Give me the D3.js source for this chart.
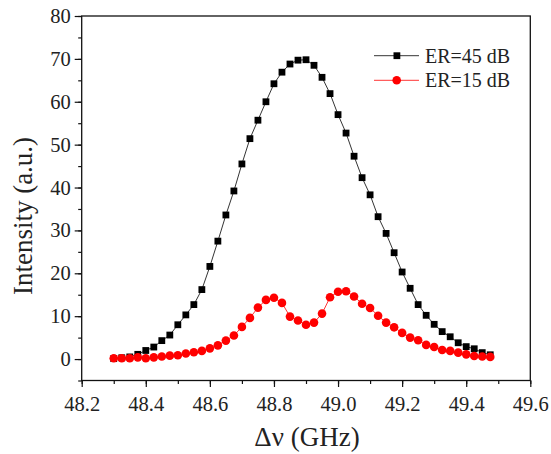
<!DOCTYPE html>
<html>
<head>
<meta charset="utf-8">
<script src="https://cdn.jsdelivr.net/npm/d3@7.9.0/dist/d3.min.js"></script>
<style>
  body { margin: 0; background: #fff; }
  svg { display: block; }
  svg text { font-family: "Liberation Serif", "Times New Roman", serif !important; fill: #222; }
</style>
</head>
<body>
<svg id="chart" width="551" height="454"></svg>
<script>
const freqs = [48.300, 48.325, 48.350, 48.375, 48.400, 48.425, 48.450, 48.475, 48.500, 48.525,
  48.550, 48.575, 48.600, 48.625, 48.650, 48.675, 48.700, 48.725, 48.750, 48.775,
  48.800, 48.825, 48.850, 48.875, 48.900, 48.925, 48.950, 48.975, 49.000, 49.025,
  49.050, 49.075, 49.100, 49.125, 49.150, 49.175, 49.200, 49.225, 49.250, 49.275,
  49.300, 49.325, 49.350, 49.375, 49.400, 49.425, 49.450, 49.475];

const er45 = [0.1, 0.3, 0.5, 1.1, 2.0, 2.8, 4.3, 5.6, 8.0, 10.3,
  12.7, 16.2, 21.6, 27.5, 33.6, 39.2, 45.5, 51.4, 55.7, 60.0,
  64.2, 66.9, 68.8, 69.7, 69.8, 68.5, 65.7, 61.9, 57.0, 52.7,
  47.3, 42.3, 38.3, 33.2, 29.3, 24.8, 20.3, 16.5, 12.7, 10.2,
  8.1, 6.4, 5.2, 3.8, 2.9, 2.4, 1.5, 1.0];

const er15 = [0.2, 0.2, 0.2, 0.4, 0.2, 0.4, 0.6, 0.8, 0.9, 1.3,
  1.6, 1.9, 2.5, 3.2, 4.3, 5.5, 7.5, 9.6, 12.0, 13.8,
  14.3, 13.1, 9.9, 9.0, 8.0, 8.5, 10.6, 14.4, 15.7, 15.8,
  14.6, 12.9, 11.9, 10.1, 8.5, 7.4, 6.1, 5.0, 4.4, 3.3,
  2.8, 2.1, 1.9, 1.5, 1.1, 0.7, 0.6, 0.5];

const xTicks = [48.2, 48.4, 48.6, 48.8, 49.0, 49.2, 49.4, 49.6];
const yTicks = [0, 10, 20, 30, 40, 50, 60, 70, 80];
const seriesNames = ['ER=45 dB', 'ER=15 dB'];

const mLeft = 81.7, mRight = 530.3, mTop = 16, mBottom = 380.5;

const x = d3.scaleLinear().domain([48.2, 49.6]).range([mLeft, mRight]);
const y = d3.scaleLinear().domain([-5, 80]).range([mBottom, mTop]);

const svg = d3.select('#chart');

// x axis (bottom) with minor ticks
svg.append('g')
  .attr('transform', `translate(0,${mBottom})`)
  .call(d3.axisBottom(x).tickValues(d3.range(48.2, 49.65, 0.1)).tickSize(3.5).tickFormat(''))
  .call(g => g.select('.domain').remove())
  .call(g => g.selectAll('line').attr('stroke', '#111').attr('stroke-width', 1.2));

svg.append('g')
  .attr('transform', `translate(0,${mBottom})`)
  .call(d3.axisBottom(x).tickValues(xTicks).tickSize(6.5).tickPadding(9).tickFormat(d3.format('.1f')))
  .call(g => g.select('.domain').remove())
  .call(g => g.selectAll('line').attr('stroke', '#111').attr('stroke-width', 1.2))
  .call(g => g.selectAll('text').attr('font-size', 20.5));

// y axis with minor ticks
svg.append('g')
  .attr('transform', `translate(${mLeft},0)`)
  .call(d3.axisLeft(y).tickValues(d3.range(-5, 81, 5)).tickSize(3.5).tickFormat(''))
  .call(g => g.select('.domain').remove())
  .call(g => g.selectAll('line').attr('stroke', '#111').attr('stroke-width', 1.2));

svg.append('g')
  .attr('transform', `translate(${mLeft},0)`)
  .call(d3.axisLeft(y).tickValues(yTicks).tickSize(7).tickPadding(4))
  .call(g => g.select('.domain').remove())
  .call(g => g.selectAll('line').attr('stroke', '#111').attr('stroke-width', 1.2))
  .call(g => g.selectAll('text').attr('font-size', 20.5));

// frame
svg.append('rect')
  .attr('x', mLeft).attr('y', mTop)
  .attr('width', mRight - mLeft).attr('height', mBottom - mTop)
  .attr('fill', 'none').attr('stroke', '#111').attr('stroke-width', 1.3);

const line = d3.line().x((d, i) => x(freqs[i])).y(d => y(d));

svg.append('path').datum(er45)
  .attr('d', line).attr('fill', 'none').attr('stroke', '#000').attr('stroke-width', 0.8);

svg.append('g').selectAll('rect').data(er45).join('rect')
  .attr('x', (d, i) => x(freqs[i]) - 3.4)
  .attr('y', d => y(d) - 3.4)
  .attr('width', 6.8).attr('height', 6.8)
  .attr('fill', '#000');

svg.append('path').datum(er15)
  .attr('d', line).attr('fill', 'none').attr('stroke', '#f00').attr('stroke-width', 0.8);

svg.append('g').selectAll('circle').data(er15).join('circle')
  .attr('cx', (d, i) => x(freqs[i]))
  .attr('cy', d => y(d))
  .attr('r', 4.3)
  .attr('fill', '#f00');

// legend
const legend = svg.append('g');
seriesNames.forEach((name, i) => {
  const ly = 55.7 + i * 24.6;
  const color = i === 0 ? '#000' : '#f00';
  legend.append('line')
    .attr('x1', 374).attr('x2', 419).attr('y1', ly).attr('y2', ly)
    .attr('stroke', color).attr('stroke-width', 0.8);
  if (i === 0) {
    legend.append('rect').attr('x', 393.5).attr('y', ly - 3.4).attr('width', 6.8).attr('height', 6.8).attr('fill', color);
  } else {
    legend.append('circle').attr('cx', 396.7).attr('cy', ly).attr('r', 4.3).attr('fill', color);
  }
  legend.append('text')
    .attr('x', 425).attr('y', ly + 7)
    .attr('font-size', 20)
    .text(name);
});

// axis titles
svg.append('text')
  .attr('transform', 'translate(32,216) rotate(-90)')
  .attr('text-anchor', 'middle')
  .attr('font-size', 27)
  .text('Intensity (a.u.)');

svg.append('text')
  .attr('x', 307).attr('y', 446)
  .attr('text-anchor', 'middle')
  .attr('font-size', 27)
  .text('Δν (GHz)');
</script>
</body>
</html>
